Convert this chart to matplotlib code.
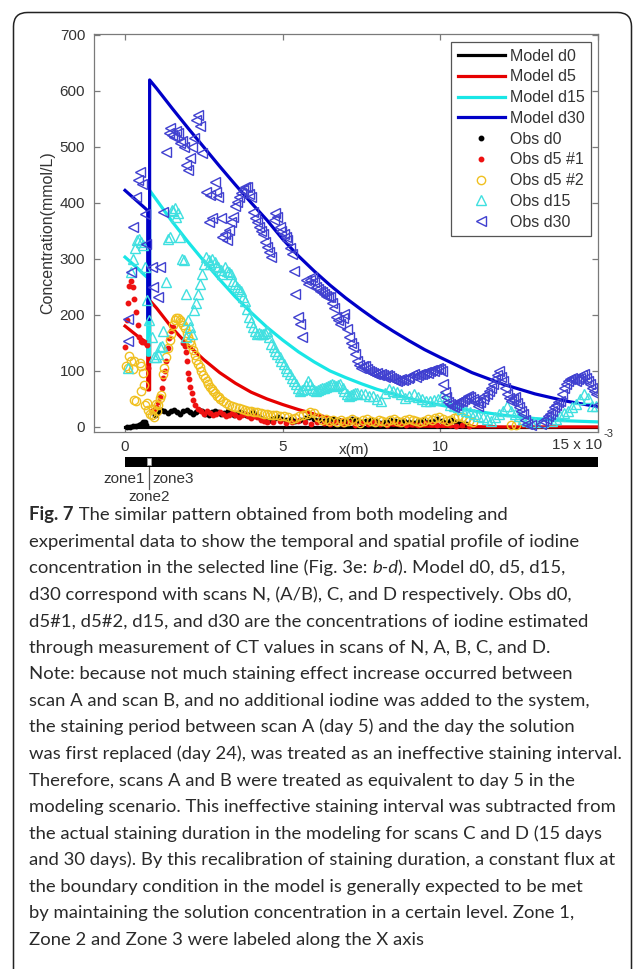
import matplotlib
matplotlib.use("Agg")
import matplotlib.pyplot as plt
from matplotlib.patches import FancyBboxPatch, Rectangle

# ---------------- data (x in mm, i.e. x(m) * 1e3) ----------------
model_d0_x = [0, 15]
model_d0_y = [0, 0]

model_d5_x = [0, 0.2, 0.4, 0.6, 0.72, 0.72, 0.78, 0.78, 1.0, 1.5, 2.0, 2.5, 3.0, 3.5, 4.0,
              4.5, 5.0, 5.5, 6.0, 6.5, 7.0, 8.0, 9.0, 10, 12, 15]
model_d5_y = [180, 171, 162, 154, 150, 66, 66, 226, 212, 176, 146, 120, 97, 78, 62,
              50, 40, 31, 23, 16, 11, 5, 2, 1, 0, 0]

model_d15_x = [0, 0.2, 0.4, 0.6, 0.72, 0.72, 0.78, 0.78, 1.0, 1.5, 2.0, 2.5, 3.0, 3.5, 4.0,
               4.5, 5.0, 5.5, 6.0, 6.5, 7.0, 7.5, 8.0, 8.5, 9.0, 9.5, 10, 11, 12, 13, 14, 15]
model_d15_y = [303, 293, 283, 272, 266, 128, 128, 422, 405, 366, 330, 296, 263, 232, 204,
               178, 155, 134, 116, 100, 88, 77, 67, 59, 51, 45, 39, 29, 21, 15, 11, 9]

model_d30_x = [0, 0.2, 0.4, 0.6, 0.72, 0.72, 0.78, 0.78, 1.0, 1.5, 2.0, 2.5, 3.0, 3.5, 4.0,
               4.5, 5.0, 5.5, 6.0, 6.5, 7.0, 7.5, 8.0, 8.5, 9.0, 9.5, 10, 11, 12, 13, 14, 15]
model_d30_y = [422, 412, 402, 392, 386, 192, 192, 619, 604, 568, 533, 499, 465, 432, 400,
               369, 335, 305, 278, 253, 230, 209, 189, 171, 154, 138, 124, 97, 76, 59, 46, 36]

obs_d0 = [(0.05, 0), (0.15, 0), (0.25, 1), (0.35, 1), (0.45, 3), (0.52, 5), (0.58, 8), (0.63, 9), (0.68, 4),
          (0.95, 22), (1.05, 27), (1.15, 30), (1.25, 28), (1.35, 25), (1.45, 29), (1.55, 31), (1.65, 27),
          (1.75, 24), (1.85, 28), (1.95, 30), (2.05, 26), (2.15, 23), (2.25, 27), (2.35, 30), (2.45, 28),
          (2.55, 24), (2.65, 22), (2.75, 26), (2.85, 29), (2.95, 27), (3.05, 23), (3.15, 25), (3.25, 28),
          (3.35, 26), (3.45, 22), (3.55, 24), (3.65, 27), (3.75, 25), (3.85, 21), (3.95, 23), (4.05, 26),
          (4.15, 22), (4.25, 18),
          (4.35, 15), (4.45, 12), (4.55, 10), (4.65, 14), (4.75, 16), (4.85, 18), (4.95, 15), (5.1, 12),
          (5.25, 14), (5.4, 11), (5.55, 13), (5.7, 16), (5.85, 18), (6.0, 14), (6.15, 12), (6.3, 10),
          (6.45, 13), (6.6, 15), (6.75, 12), (6.9, 9), (7.05, 11), (7.2, 14), (7.35, 12), (7.5, 8),
          (7.65, 10), (7.8, 13), (7.95, 11), (8.1, 7), (8.25, 9), (8.4, 12), (8.55, 10), (8.7, 8),
          (8.85, 11), (9.0, 9), (9.15, 7), (9.3, 10), (9.45, 12), (9.6, 9), (9.75, 11), (9.9, 14),
          (10.05, 10), (10.2, 8), (10.35, 12), (10.5, 9), (10.65, 7), (10.8, 5)]

obs_d5_1 = [(0.0, 143), (0.05, 190), (0.09, 221), (0.14, 252), (0.18, 260), (0.24, 250), (0.3, 228),
            (0.35, 205), (0.4, 182), (0.45, 160), (0.5, 154), (0.55, 152), (0.6, 151), (0.65, 150),
            (0.7, 146), (0.72, 106),
            (0.85, 28), (0.92, 31), (0.99, 36), (1.05, 44), (1.1, 54), (1.16, 70), (1.21, 87), (1.26, 100),
            (1.31, 118), (1.36, 140), (1.41, 158), (1.46, 172), (1.51, 178),
            (1.84, 150), (1.89, 145), (1.93, 133), (1.97, 117), (2.0, 97), (2.03, 85), (2.07, 72),
            (2.11, 60), (2.16, 48), (2.21, 40),
            (2.3, 32), (2.4, 28), (2.5, 24), (2.6, 28), (2.7, 25), (2.8, 21), (2.9, 24), (3.0, 27),
            (3.1, 23), (3.2, 19), (3.3, 22), (3.4, 25), (3.5, 21), (3.6, 18), (3.7, 21), (3.8, 23),
            (3.9, 19), (4.0, 16), (4.1, 19), (4.2, 17), (4.3, 13), (4.4, 11), (4.5, 9), (4.7, 8),
            (4.9, 10), (5.1, 7), (5.3, 9), (5.5, 11), (5.7, 8), (5.9, 6), (6.1, 9), (6.3, 7), (6.5, 5),
            (6.7, 8), (6.9, 6), (7.1, 9), (7.3, 4), (7.5, 7), (7.7, 5), (7.9, 8), (8.1, 6), (8.3, 4),
            (8.5, 7), (8.7, 5), (8.9, 3), (9.1, 6), (9.3, 4), (9.5, 7), (9.7, 5), (9.9, 3), (10.1, 5),
            (10.3, 4), (10.5, 2), (10.7, 3), (10.9, 1)]

obs_d5_2 = [(0.04, 108), (0.1, 106), (0.14, 126), (0.19, 118), (0.26, 103), (0.3, 117), (0.3, 48),
            (0.34, 46), (0.46, 114), (0.51, 108), (0.52, 64), (0.57, 96), (0.6, 75), (0.64, 40),
            (0.69, 42), (0.74, 31),
            (0.8, 23), (0.85, 22), (0.88, 32), (0.92, 18), (0.97, 41), (1.0, 28), (1.05, 40), (1.1, 52),
            (1.15, 57), (1.2, 94), (1.25, 106), (1.3, 125), (1.36, 141), (1.42, 155), (1.47, 165),
            (1.52, 182), (1.58, 191), (1.63, 194), (1.68, 194), (1.74, 190), (1.79, 187), (1.84, 181),
            (1.89, 176), (1.95, 168), (2.0, 160), (2.05, 153), (2.1, 146), (2.16, 137), (2.21, 128),
            (2.26, 120), (2.32, 113), (2.37, 107), (2.42, 99), (2.48, 92), (2.53, 87), (2.59, 82),
            (2.64, 76), (2.7, 71), (2.75, 67), (2.8, 64), (2.86, 60), (2.91, 56), (2.97, 53), (3.02, 50),
            (3.11, 47), (3.2, 43), (3.3, 40), (3.4, 37), (3.5, 35), (3.6, 33), (3.7, 32), (3.8, 31),
            (3.9, 29), (4.0, 28), (4.1, 27), (4.2, 26), (4.3, 25), (4.4, 24), (4.5, 23), (4.6, 22),
            (4.7, 22), (4.8, 21), (4.92, 20),
            (5.04, 19), (5.16, 17), (5.28, 14), (5.4, 16), (5.52, 20), (5.64, 22), (5.76, 24), (5.88, 26),
            (6.0, 25), (6.12, 18), (6.24, 12), (6.36, 14), (6.48, 10), (6.6, 13), (6.72, 9), (6.84, 12),
            (6.96, 8), (7.08, 11), (7.2, 14), (7.32, 10), (7.44, 7), (7.56, 12), (7.68, 15), (7.8, 11),
            (7.92, 9), (8.04, 13), (8.16, 10), (8.28, 8), (8.4, 12), (8.52, 14), (8.64, 11), (8.76, 9),
            (8.88, 13), (9.0, 15), (9.12, 12), (9.24, 10), (9.36, 8), (9.48, 11), (9.6, 14), (9.72, 12),
            (9.84, 16), (9.96, 18), (10.08, 15), (10.2, 11), (10.32, 13), (10.44, 16), (10.56, 20),
            (10.68, 17), (10.8, 14), (10.92, 10), (11.04, 8), (12.25, 4), (12.4, 3)]

obs_d15 = [(0.1, 106), (0.19, 276), (0.25, 300), (0.32, 320), (0.39, 333), (0.45, 336), (0.52, 330),
           (0.58, 324), (0.64, 285), (0.71, 226), (0.77, 190),
           (0.85, 160), (0.92, 124), (0.97, 124), (1.03, 130), (1.1, 142), (1.16, 145), (1.22, 172),
           (1.29, 258), (1.36, 335), (1.42, 339), (1.48, 387), (1.53, 385), (1.57, 390), (1.63, 375),
           (1.68, 381), (1.74, 339), (1.8, 300), (1.87, 297), (1.93, 237), (1.93, 160), (2.0, 190),
           (2.06, 178), (2.13, 166), (2.19, 209), (2.26, 222), (2.32, 237), (2.39, 255), (2.45, 273),
           (2.52, 290), (2.58, 303), (2.65, 298), (2.71, 291), (2.77, 300), (2.84, 294), (2.9, 288),
           (2.96, 285), (3.03, 280), (3.09, 273), (3.16, 285), (3.22, 279), (3.29, 276), (3.35, 273),
           (3.42, 261), (3.48, 255), (3.54, 249), (3.61, 246), (3.67, 243), (3.74, 232), (3.8, 225),
           (3.87, 210), (3.93, 196), (4.0, 188), (4.06, 178), (4.13, 172), (4.19, 166), (4.25, 168),
           (4.32, 165), (4.38, 166), (4.45, 168), (4.51, 172), (4.58, 160), (4.64, 148), (4.71, 142),
           (4.77, 136), (4.83, 130), (4.9, 124), (4.96, 118), (5.03, 112), (5.09, 106), (5.15, 100),
           (5.22, 94), (5.28, 88), (5.35, 82), (5.41, 76), (5.48, 70), (5.54, 64), (5.6, 66), (5.67, 67),
           (5.74, 75), (5.8, 82), (5.87, 76), (5.93, 70), (6.0, 66), (6.06, 64), (6.13, 66), (6.19, 67),
           (6.25, 69), (6.31, 70), (6.38, 72), (6.44, 73), (6.5, 75), (6.57, 76), (6.64, 74), (6.7, 73),
           (6.77, 75), (6.83, 76), (6.9, 70), (6.96, 64), (7.03, 58), (7.09, 55), (7.16, 57), (7.22, 58),
           (7.29, 60), (7.35, 61), (7.47, 59), (7.6, 58), (7.73, 56), (7.86, 55), (7.99, 50), (8.12, 46),
           (8.25, 61), (8.38, 67), (8.51, 65), (8.63, 63), (8.76, 58), (8.89, 52), (9.02, 55), (9.15, 58),
           (9.28, 53), (9.41, 49), (9.54, 47), (9.66, 46), (9.79, 48), (9.92, 49), (10.05, 55),
           (10.18, 49), (10.31, 40), (10.44, 37), (10.57, 35), (10.7, 32), (10.82, 29), (10.95, 26),
           (11.08, 23), (11.21, 20), (11.34, 17), (11.47, 14), (11.6, 11), (11.73, 17), (11.86, 24),
           (11.98, 29), (12.11, 38), (12.24, 29), (12.37, 24), (12.5, 20), (12.63, 15), (12.76, 11),
           (12.89, 9), (13.01, 8), (13.27, 9), (13.53, 11), (13.66, 15), (13.79, 20), (13.92, 25),
           (14.05, 29), (14.18, 35), (14.3, 41), (14.43, 50), (14.56, 58), (14.69, 52), (14.82, 38),
           (14.95, 38)]

obs_d30 = [(0.1, 154), (0.1, 193), (0.19, 276), (0.26, 357), (0.34, 410), (0.42, 440), (0.47, 455),
           (0.55, 434), (0.62, 380), (0.67, 327),
           (0.84, 285), (0.9, 249), (1.05, 231), (1.1, 285), (1.22, 383), (1.29, 491), (1.38, 525),
           (1.44, 533), (1.5, 520), (1.56, 518), (1.62, 528), (1.68, 524), (1.74, 506), (1.8, 510),
           (1.87, 500), (1.93, 467), (2.0, 458), (2.06, 479), (2.12, 500), (2.18, 515), (2.25, 548),
           (2.32, 557), (2.38, 536), (2.45, 488),
           (2.58, 419), (2.65, 365), (2.71, 413), (2.77, 372), (2.84, 437), (2.9, 420), (2.96, 411),
           (3.03, 372), (3.09, 339), (3.16, 345), (3.22, 333), (3.29, 351), (3.35, 365), (3.42, 375),
           (3.48, 395), (3.55, 402), (3.61, 411), (3.68, 418), (3.74, 422), (3.8, 428), (3.87, 428),
           (3.93, 416), (4.0, 411), (4.06, 384), (4.13, 372), (4.19, 365), (4.25, 357), (4.32, 350),
           (4.38, 345), (4.45, 330), (4.51, 321), (4.58, 312), (4.64, 303),
           (4.71, 370), (4.77, 381), (4.83, 375), (4.9, 357), (4.96, 350), (5.03, 345), (5.09, 338),
           (5.15, 333), (5.22, 320), (5.28, 309), (5.35, 279), (5.39, 237), (5.48, 196), (5.54, 184),
           (5.6, 160),
           (5.74, 262), (5.8, 255), (5.87, 262), (5.93, 267), (6.0, 258), (6.06, 249), (6.13, 246),
           (6.19, 243), (6.25, 240), (6.31, 237), (6.38, 234), (6.44, 232), (6.5, 231), (6.57, 222),
           (6.64, 213), (6.7, 196), (6.77, 190), (6.83, 184), (6.9, 195), (6.96, 202), (7.03, 175),
           (7.09, 160), (7.16, 150), (7.22, 142), (7.29, 130), (7.35, 118), (7.41, 110), (7.47, 106),
           (7.54, 108), (7.6, 109), (7.67, 104), (7.73, 100), (7.8, 98), (7.86, 97), (7.93, 95),
           (8.0, 96), (8.06, 93), (8.12, 94), (8.19, 92), (8.25, 90), (8.32, 93), (8.38, 91), (8.45, 88),
           (8.51, 85), (8.57, 84), (8.63, 82), (8.7, 84), (8.76, 86), (8.83, 83), (8.89, 85), (8.96, 88),
           (9.02, 90), (9.09, 92), (9.15, 94), (9.22, 90), (9.28, 93), (9.35, 95), (9.41, 94), (9.48, 96),
           (9.54, 98), (9.6, 97), (9.66, 100), (9.73, 102), (9.79, 99), (9.86, 104), (9.92, 106),
           (9.98, 103), (10.05, 100),
           (10.1, 76), (10.14, 62), (10.18, 53), (10.24, 45), (10.31, 41), (10.37, 38), (10.44, 35),
           (10.5, 40), (10.57, 44), (10.63, 47), (10.7, 47), (10.76, 50), (10.82, 52), (10.89, 55),
           (10.95, 53), (11.02, 50), (11.08, 47), (11.15, 42), (11.21, 38), (11.27, 45), (11.34, 50),
           (11.4, 55), (11.47, 58), (11.53, 64), (11.6, 70), (11.66, 76), (11.72, 85), (11.79, 92),
           (11.86, 100), (11.92, 90), (11.98, 82), (12.05, 70), (12.11, 58), (12.18, 52), (12.24, 47),
           (12.31, 50), (12.37, 53), (12.44, 42), (12.5, 35), (12.57, 28), (12.63, 23), (12.7, 12),
           (12.76, 5), (12.89, 3),
           (13.2, 5), (13.27, 11), (13.34, 15), (13.4, 19), (13.47, 23), (13.53, 28), (13.6, 35),
           (13.66, 40), (13.72, 44), (13.79, 47), (13.86, 58), (13.92, 70), (13.98, 76), (14.05, 82),
           (14.11, 85), (14.18, 88), (14.24, 85), (14.3, 82), (14.37, 86), (14.43, 88), (14.5, 92),
           (14.56, 94), (14.62, 88), (14.69, 82), (14.75, 76), (14.82, 70), (14.88, 65), (14.95, 58),
           (15.0, 40)]

zone_edges = [0, 0.69, 0.81, 15]          # zone1 | zone2 | zone3 (mm)
zone_names = ["zone1", "zone2", "zone3"]

yticks = [0, 100, 200, 300, 400, 500, 600, 700]
xticks = [0, 5, 10, 15]
xtick_labels = ["0", "5", "10", ""]

caption_lines = [
    [("Fig. 7", "bold", "normal"), (" The similar pattern obtained from both modeling and", "normal", "normal")],
    [("experimental data to show the temporal and spatial profile of iodine", "normal", "normal")],
    [("concentration in the selected line (Fig. 3e: ", "normal", "normal"), ("b-d", "normal", "italic"),
     ("). Model d0, d5, d15,", "normal", "normal")],
    [("d30 correspond with scans N, (A/B), C, and D respectively. Obs d0,", "normal", "normal")],
    [("d5#1, d5#2, d15, and d30 are the concentrations of iodine estimated", "normal", "normal")],
    [("through measurement of CT values in scans of N, A, B, C, and D.", "normal", "normal")],
    [("Note: because not much staining effect increase occurred between", "normal", "normal")],
    [("scan A and scan B, and no additional iodine was added to the system,", "normal", "normal")],
    [("the staining period between scan A (day 5) and the day the solution", "normal", "normal")],
    [("was first replaced (day 24), was treated as an ineffective staining interval.", "normal", "normal")],
    [("Therefore, scans A and B were treated as equivalent to day 5 in the", "normal", "normal")],
    [("modeling scenario. This ineffective staining interval was subtracted from", "normal", "normal")],
    [("the actual staining duration in the modeling for scans C and D (15 days", "normal", "normal")],
    [("and 30 days). By this recalibration of staining duration, a constant flux at", "normal", "normal")],
    [("the boundary condition in the model is generally expected to be met", "normal", "normal")],
    [("by maintaining the solution concentration in a certain level. Zone 1,", "normal", "normal")],
    [("Zone 2 and Zone 3 were labeled along the X axis", "normal", "normal")],
]

# ---------------- figure ----------------
W, H = 634, 969
plt.rcParams["font.family"] = ["Liberation Sans", "DejaVu Sans"]
fig = plt.figure(figsize=(W / 100, H / 100), dpi=100)
fig.patch.set_facecolor("white")


def fx(px):
    return px / W


def fy(py):
    return 1 - py / H


TXT = "#333333"
AXC = "#7a7a7a"

# frame
bg = fig.add_axes([0, 0, 1, 1], zorder=-5)
bg.set_xlim(0, W)
bg.set_ylim(H, 0)
bg.axis("off")
bg.add_patch(FancyBboxPatch((13.5, 12.5), 618, 980, boxstyle="round,pad=0,rounding_size=14",
                            fill=False, ec="#222222", lw=1.1))

# main axes
L, R, T, B = 93.5, 598, 34, 432
ax = fig.add_axes([fx(L), fy(B), (R - L) / W, (B - T) / H])
ax.plot(model_d0_x, model_d0_y, color="black", lw=2.3, label="Model d0")
ax.plot(model_d5_x, model_d5_y, color="#e60000", lw=2.3, label="Model d5")
ax.plot(model_d15_x, model_d15_y, color="#19e6e6", lw=2.3, label="Model d15")
ax.plot(model_d30_x, model_d30_y, color="#0000c8", lw=2.3, label="Model d30")


def xs(p):
    return [a for a, b in p]


def ys(p):
    return [b for a, b in p]


ax.plot(xs(obs_d0), ys(obs_d0), ls="none", marker="o", ms=3.2, color="black", label="Obs d0")
ax.plot(xs(obs_d5_1), ys(obs_d5_1), ls="none", marker="o", ms=3.2, color="#ee1111", label="Obs d5 #1")
ax.plot(xs(obs_d5_2), ys(obs_d5_2), ls="none", marker="o", ms=6, mfc="none", mec="#f0c020", mew=1.0,
        label="Obs d5 #2")
ax.plot(xs(obs_d15), ys(obs_d15), ls="none", marker="^", ms=7, mfc="none", mec="#40e0e0", mew=1.0,
        label="Obs d15")
ax.plot(xs(obs_d30), ys(obs_d30), ls="none", marker="<", ms=7, mfc="none", mec="#4040d0", mew=1.0,
        label="Obs d30")

ax.set_xlim(-1, 15)
ax.set_ylim(-9, 701)
ax.set_xticks(xticks)
ax.set_xticklabels(xtick_labels)
ax.set_yticks(yticks)
ax.tick_params(direction="in", length=4, width=0.9, color=AXC, labelcolor=TXT, labelsize=11,
               top=True, right=True, pad=6)
for s in ax.spines.values():
    s.set_color(AXC)
    s.set_linewidth(0.9)

ax.set_xlabel("x(m)", fontsize=11, color=TXT)
ax.xaxis.set_label_coords((354 - L) / (R - L), (B - 443) / (B - T))
ax.set_ylabel("Concentration(mmol/L)", fontsize=11.5, color=TXT)
ax.yaxis.set_label_coords((55 - L) / (R - L), 0.5)

fig.text(fx(602), fy(445), "15 x 10", ha="right", va="center", fontsize=11, color=TXT)
fig.text(fx(603), fy(434), "-3", ha="left", va="center", fontsize=8, color=TXT)

leg = ax.legend(loc="upper right", bbox_to_anchor=((591 - L) / (R - L), (B - 42) / (B - T)),
                borderaxespad=0, fontsize=11.5, handlelength=2.95, handletextpad=0.3,
                labelspacing=0.36, borderpad=0.42, numpoints=1, fancybox=False, framealpha=1)
leg.get_frame().set_edgecolor("#555555")
leg.get_frame().set_linewidth(0.9)
for t in leg.get_texts():
    t.set_color(TXT)

# zone bar
zax = fig.add_axes([fx(L), fy(466.5), (R - L) / W, 9.5 / H])
zax.set_xlim(-1, 15)
zax.set_ylim(0, 1)
zax.axis("off")
zax.add_patch(Rectangle((zone_edges[0], 0), zone_edges[3] - zone_edges[0], 1, color="black", lw=0))
zax.add_patch(Rectangle((zone_edges[1], 0.15), zone_edges[2] - zone_edges[1], 0.7, fc="white",
                        ec="#999999", lw=0.6))
zx = zone_edges[1] + (zone_edges[2] - zone_edges[1]) / 2
px_zone = L + (zx + 1) / 16 * (R - L)
bg.plot([px_zone, px_zone], [467, 489], color="#555555", lw=0.9)
fig.text(fx(px_zone - 4), fy(479), zone_names[0], ha="right", va="center", fontsize=11, color=TXT)
fig.text(fx(px_zone + 4), fy(479), zone_names[2], ha="left", va="center", fontsize=11, color=TXT)
fig.text(fx(px_zone), fy(497), zone_names[1], ha="center", va="center", fontsize=11, color=TXT)

# caption
renderer = fig.canvas.get_renderer()
CAP_FONT = "Lato"
CAP_COLOR = "#2a2a2a"


def seg_width(txt, size, weight, style):
    t1 = fig.text(0, 0, txt + "l", fontsize=size, fontweight=weight, fontstyle=style, family=CAP_FONT)
    t2 = fig.text(0, 0, "l", fontsize=size, fontweight=weight, fontstyle=style, family=CAP_FONT)
    w = t1.get_window_extent(renderer).width - t2.get_window_extent(renderer).width
    t1.remove()
    t2.remove()
    return w


def line_width(line, size):
    return sum(seg_width(t, size, w, s) for t, w, s in line)


cap_size = min(10 * 592.0 / line_width(line, 10) for line in caption_lines)

x0 = 29
for i, line in enumerate(caption_lines):
    ypx = 520 + i * 26.56
    x = x0
    for txt, weight, style in line:
        fig.text(fx(x), fy(ypx), txt, fontsize=cap_size, fontweight=weight, fontstyle=style,
                 family=CAP_FONT, color=CAP_COLOR, va="baseline", ha="left")
        x += seg_width(txt, cap_size, weight, style)

fig.savefig("out.png", dpi=100, facecolor="white")
